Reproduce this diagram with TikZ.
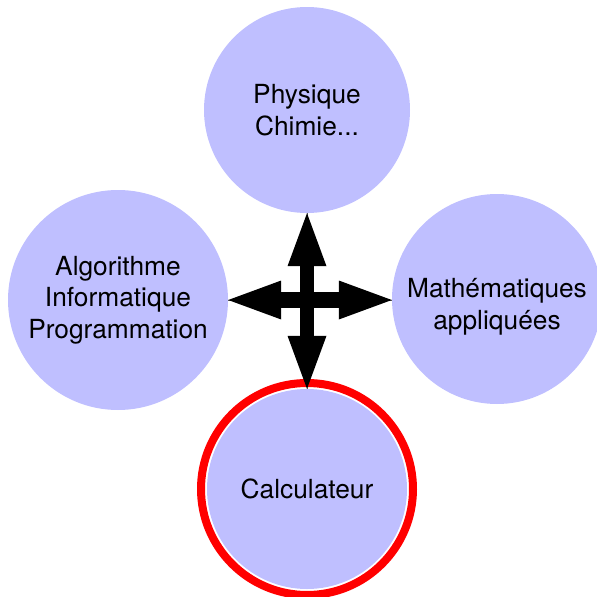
\documentclass[tikz,border=0pt]{standalone}
\usepackage{fontspec}
\setmainfont{TeX Gyre Heros}
\usetikzlibrary{calc}
\definecolor{bubble}{RGB}{191,191,255}
\definecolor{ringred}{RGB}{255,0,0}
\tikzset{
  bubble/.style={circle, fill=bubble, inner sep=0pt, align=center,
    font=\fontsize{26.3}{31.5}\selectfont},
  shaft/.style={line cap=butt, shorten <=50pt, shorten >=50pt},
  axisline/.style={line width=0.5pt, black!60},
  headshape/.pic={\fill (0,0) -- (-53,19.5) -- (-53,-19.5) -- cycle;}
}
\begin{document}
\begin{tikzpicture}[x=1pt,y=-1pt]
\useasboundingbox (0,0) rectangle (597,597);
\clip (0,0) rectangle (597,597);
\node[bubble, minimum size=206pt] (top) at (307,110) {Physique\\Chimie...};
\node[bubble, minimum size=220pt] (left) at (118,300) {Algorithme\\Informatique\\Programmation};
\node[bubble, minimum size=210pt] (right) at (497,299) {\rule{0pt}{35pt}Mathématiques\\appliquées};
\node[bubble, minimum size=200pt] (bot) at (307,489) {Calculateur};
\draw[ringred, line width=8pt] (bot.center) circle (106pt);
% vertical double arrow
\draw[axisline] (top.south) -- (bot.north);
\draw[shaft, line width=14pt] (top.south) -- (bot.north);
\pic[rotate=90] at (top.south) {headshape};
\pic[rotate=-90] at (bot.north) {headshape};
% horizontal double arrow
\coordinate (rtip) at (left.east -| right.west);
\draw[axisline] (left.east) -- (rtip);
\draw[shaft, line width=16pt] (left.east) -- (rtip);
\pic[rotate=180] at (left.east) {headshape};
\pic[rotate=0] at (rtip) {headshape};
\end{tikzpicture}
\end{document}
